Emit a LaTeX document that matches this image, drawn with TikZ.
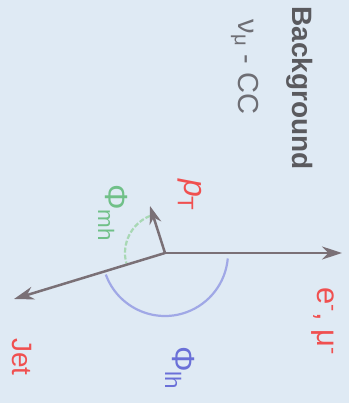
\documentclass[tikz,border=0pt]{standalone}
\usepackage{fontspec}
\setmainfont{Liberation Sans}
\usetikzlibrary{arrows.meta}
\definecolor{bgc}{HTML}{DFEAF4}
\definecolor{vecc}{HTML}{7A7076}
\definecolor{titlec}{HTML}{5A5A5E}
\definecolor{subc}{HTML}{6E6E74}
\definecolor{redc}{HTML}{F05050}
\definecolor{greenc}{HTML}{70C088}
\definecolor{greenarc}{HTML}{A8D8B4}
\definecolor{bluec}{HTML}{6A70D8}
\definecolor{bluearc}{HTML}{A0A8E6}
\begin{document}
\begin{tikzpicture}[x=1pt,y=1pt,
  vec/.style={draw=vecc, line width=2.5pt, -{Stealth[length=20pt,width=13pt]}},
  lbl/.style={rotate=-90, inner sep=0pt},
  anglearc/.style={line width=2.2pt}]
\fill[bgc] (0,0) rectangle (349,403);
\useasboundingbox (0,0) rectangle (349,403);
\coordinate (O) at (165,150);
\coordinate (E) at (342,150);
\coordinate (J) at (14,104);
\coordinate (P) at (150,197);
\draw[anglearc, draw=bluearc] ([shift={(200:63)}]O) arc[start angle=200,end angle=355,radius=63];
\draw[anglearc, draw=greenarc, dash pattern=on 5pt off 2pt] ([shift={(112:40)}]O) arc[start angle=112,end angle=195,radius=40];
\draw[vec] (O) -- (E);
\draw[vec] (O) -- (J);
\draw[vec, -{Stealth[length=18pt,width=12pt]}] (O) -- (P);
\node[lbl, font=\fontsize{28}{30}\selectfont\bfseries, text=titlec] (title) at (300,315) {Background};
\node[lbl, font=\fontsize{29}{31}\selectfont, text=subc] (cc) at (245,336) {ν\textsubscript{μ} - CC};
\node[lbl, font=\fontsize{32}{34}\selectfont, text=redc] (pt) at (190,208) {\textit{p}\textsubscript{T}};
\node[lbl, font=\fontsize{31}{33}\selectfont, text=redc] (lep) at (323,82) {e\textsuperscript{-}, μ\textsuperscript{-}};
\node[lbl, font=\fontsize{28}{30}\selectfont, text=redc] (jet) at (22,46) {Jet};
\node[lbl, font=\fontsize{32}{34}\selectfont, text=greenc] (phimh) at (113,190) {Φ\textsubscript{mh}};
\node[lbl, font=\fontsize{32}{34}\selectfont, text=bluec] (philh) at (180,35) {Φ\textsubscript{lh}};
\end{tikzpicture}
\end{document}
